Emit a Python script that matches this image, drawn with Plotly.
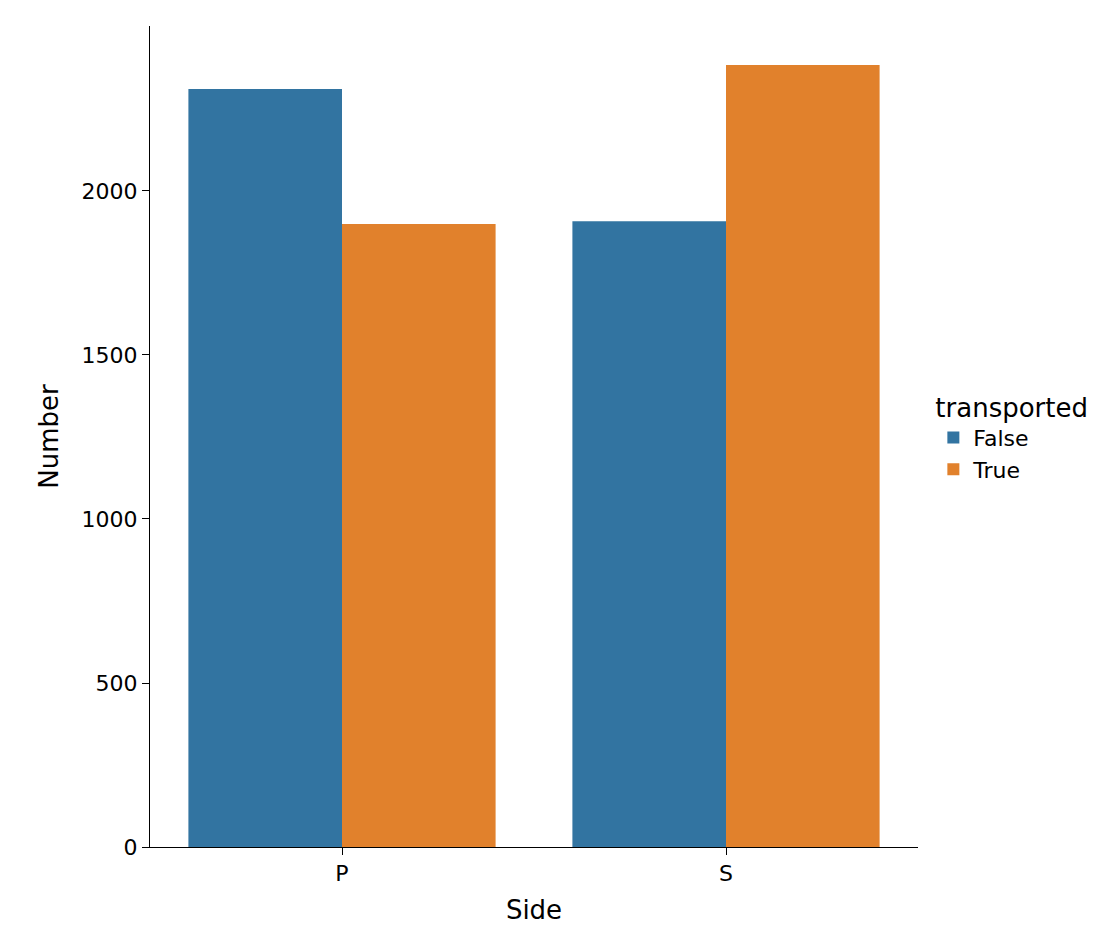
import plotly.graph_objects as go

sides = ["P", "S"]
false_counts = [2311, 1908]
true_counts = [1899, 2384]

fig = go.Figure()
fig.add_trace(go.Bar(x=sides, y=false_counts, name="False", marker_color="#3274a1", marker_line_width=0))
fig.add_trace(go.Bar(x=sides, y=true_counts, name="True", marker_color="#e1812c", marker_line_width=0))

fig.update_layout(
    width=1106, height=940,
    barmode="group", bargap=0.2, bargroupgap=0,
    plot_bgcolor="white", paper_bgcolor="white",
    font=dict(family="DejaVu Sans", size=22, color="black"),
    margin=dict(l=142, r=196, t=18, b=101),
    legend=dict(title=dict(text="transported", side="top"), x=1.02, y=0.5, yanchor="middle",
                xanchor="left", font=dict(size=22)),
)
fig.update_xaxes(title_text="Side", range=[-0.5, 1.5], showline=True, linecolor="black",
                 ticks="outside", ticklen=7, tickcolor="black", showgrid=False)
fig.update_yaxes(title_text="Number", range=[0, 2503], showline=True, linecolor="black",
                 ticks="outside", ticklen=7, tickcolor="black", showgrid=False,
                 tickvals=[0, 500, 1000, 1500, 2000], zeroline=False)
fig.write_html("out.html")
